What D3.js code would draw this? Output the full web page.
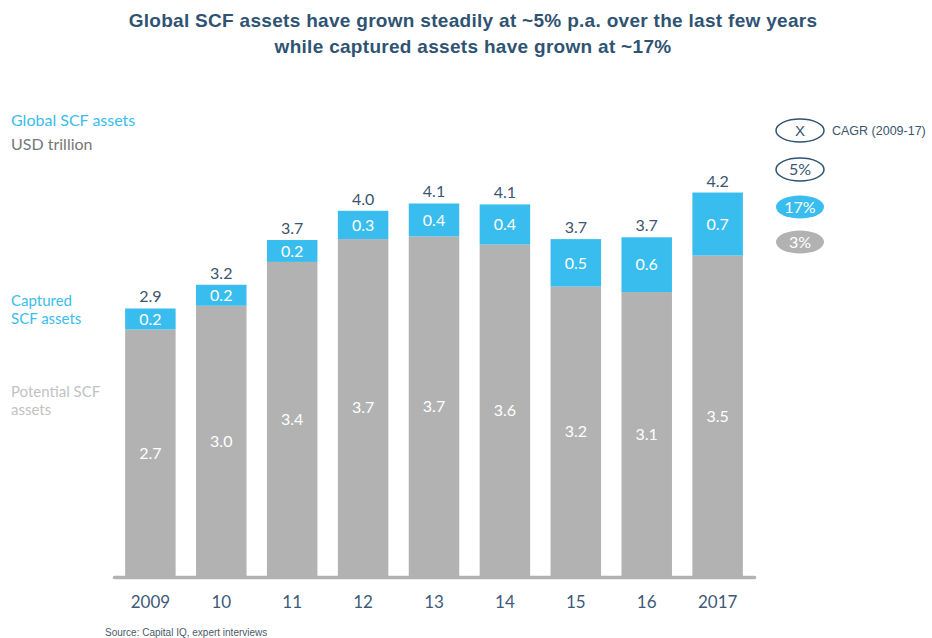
<!DOCTYPE html>
<html>
<head>
<meta charset="utf-8">
<script src="https://cdn.jsdelivr.net/npm/d3@7"></script>
<style>
  html, body { margin: 0; padding: 0; background: #ffffff; }
  svg { display: block; }
</style>
</head>
<body>
<svg id="chart" width="932" height="638"></svg>
<script>
// --- Data (USD trillion) ---
const years     = ['2009', '10', '11', '12', '13', '14', '15', '16', '2017'];
const potential = [2.70, 2.96, 3.44, 3.69, 3.72, 3.63, 3.17, 3.11, 3.51];
const captured  = [0.23, 0.23, 0.24, 0.31, 0.36, 0.44, 0.52, 0.60, 0.69];
const cagrLabels = ['X', '5%', '17%', '3%'];

const W = 932, H = 638;
const BLUE = '#39bdee';
const GREY = '#b2b2b2';
const DARK = '#3a5570';
const TITLE = '#2f5373';
const LATO = 'Lato, "Open Sans", sans-serif';
const ARIAL = '"Liberation Sans", Arial, sans-serif';

const svg = d3.select('#chart');

// --- Scales ---
const baseY = 576;
const x = d3.scaleBand()
  .domain(years)
  .range([114, 754])
  .paddingInner(0.288)
  .paddingOuter(0.157);
const y = d3.scaleLinear()
  .domain([0, 4.2])
  .range([baseY, baseY - 4.2 * 91.3]);

const rows = years.map((yr, i) => ({
  yr, pot: potential[i], cap: captured[i], tot: potential[i] + captured[i]
}));

// --- Title ---
const title = svg.append('text')
  .attr('text-anchor', 'middle')
  .attr('fill', TITLE)
  .attr('font-family', ARIAL)
  .attr('font-weight', 700)
  .attr('font-size', '19px')
  .attr('letter-spacing', '0.3px');
title.append('tspan').attr('x', 473).attr('y', 27)
  .text('Global SCF assets have grown steadily at ~5% p.a. over the last few years');
title.append('tspan').attr('x', 473).attr('y', 53)
  .text('while captured assets have grown at ~17%');

// --- Bars ---
const g = svg.append('g');

// potential (grey)
g.selectAll('rect.pot').data(rows).join('rect')
  .attr('class', 'pot')
  .attr('x', d => x(d.yr))
  .attr('width', x.bandwidth())
  .attr('y', d => y(d.pot))
  .attr('height', d => y(0) - y(d.pot))
  .attr('fill', GREY);

// captured (blue)
g.selectAll('rect.cap').data(rows).join('rect')
  .attr('class', 'cap')
  .attr('x', d => x(d.yr))
  .attr('width', x.bandwidth())
  .attr('y', d => y(d.tot))
  .attr('height', d => y(d.pot) - y(d.tot))
  .attr('fill', BLUE);

// segment labels
g.selectAll('text.pot').data(rows).join('text')
  .attr('class', 'pot')
  .attr('x', d => x(d.yr) + x.bandwidth() / 2)
  .attr('y', d => (y(0) + y(d.pot)) / 2)
  .attr('dy', '0.36em')
  .attr('text-anchor', 'middle')
  .attr('fill', '#ffffff')
  .attr('font-family', LATO)
  .attr('font-size', '16px')
  .text(d => d.pot.toFixed(1));

g.selectAll('text.cap').data(rows).join('text')
  .attr('class', 'cap')
  .attr('x', d => x(d.yr) + x.bandwidth() / 2)
  .attr('y', d => (y(d.pot) + y(d.tot)) / 2)
  .attr('dy', '0.36em')
  .attr('text-anchor', 'middle')
  .attr('fill', '#ffffff')
  .attr('font-family', LATO)
  .attr('font-size', '16px')
  .text(d => d.cap.toFixed(1));

// totals
g.selectAll('text.tot').data(rows).join('text')
  .attr('class', 'tot')
  .attr('x', d => x(d.yr) + x.bandwidth() / 2)
  .attr('y', d => y(d.tot) - 6)
  .attr('text-anchor', 'middle')
  .attr('fill', DARK)
  .attr('font-family', LATO)
  .attr('font-size', '16px')
  .text(d => d.tot.toFixed(1));

// --- X axis ---
const xAxis = svg.append('g')
  .attr('transform', `translate(0, ${baseY + 1})`)
  .call(d3.axisBottom(x).tickSize(0).tickPadding(19));
xAxis.select('.domain')
  .attr('stroke', GREY)
  .attr('stroke-width', 3.5)
  .attr('stroke-linecap', 'round');
xAxis.selectAll('text')
  .attr('fill', '#3d5a78')
  .attr('font-family', LATO)
  .attr('font-size', '17px');

// --- Left annotations ---
const ann = [
  { t: 'Global SCF assets', y: 126, c: BLUE, s: 16 },
  { t: 'USD trillion',      y: 150, c: '#777777', s: 16 },
  { t: 'Captured',          y: 306, c: BLUE, s: 15 },
  { t: 'SCF assets',        y: 324, c: BLUE, s: 15 },
  { t: 'Potential SCF',     y: 397, c: '#c2c2c2', s: 15 },
  { t: 'assets',            y: 415, c: '#c2c2c2', s: 15 }
];
svg.append('g').selectAll('text').data(ann).join('text')
  .attr('x', 11)
  .attr('y', d => d.y)
  .attr('fill', d => d.c)
  .attr('font-family', LATO)
  .attr('font-size', d => d.s + 'px')
  .text(d => d.t);

// --- CAGR legend ---
const legY = [130.5, 169.5, 207, 242];
const legend = svg.append('g');
const leg = legend.selectAll('g').data(cagrLabels).join('g')
  .attr('transform', (d, i) => `translate(800, ${legY[i]})`);
leg.append('ellipse')
  .attr('rx', 24).attr('ry', 11.5)
  .attr('fill', (d, i) => i === 2 ? BLUE : i === 3 ? GREY : '#ffffff')
  .attr('stroke', (d, i) => i < 2 ? TITLE : 'none')
  .attr('stroke-width', 1.5);
leg.append('text')
  .attr('text-anchor', 'middle')
  .attr('dy', '0.36em')
  .attr('fill', (d, i) => i < 2 ? DARK : '#ffffff')
  .attr('font-family', (d, i) => i === 0 ? ARIAL : LATO)
  .attr('font-size', (d, i) => i === 0 ? '15px' : '16px')
  .text(d => d);
legend.append('text')
  .attr('x', 832).attr('y', 135)
  .attr('fill', DARK)
  .attr('font-family', ARIAL)
  .attr('font-size', '12.5px')
  .text('CAGR (2009-17)');

// --- Source ---
svg.append('text')
  .attr('x', 105).attr('y', 636)
  .attr('fill', '#4a5a6a')
  .attr('font-family', ARIAL)
  .attr('font-size', '10px')
  .text('Source: Capital IQ, expert interviews');
</script>
</body>
</html>
